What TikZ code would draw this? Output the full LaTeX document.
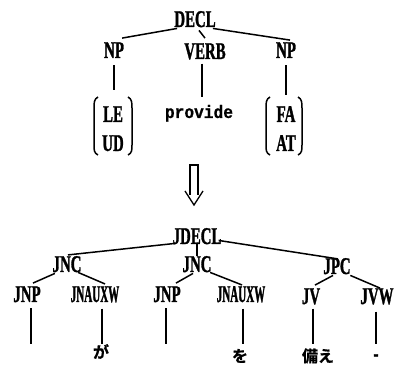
\documentclass[tikz,border=0pt]{standalone}
\usepackage{fontspec}
\usetikzlibrary{calc}
\newfontfamily\labfont[FakeStretch=0.62,FakeBold=1.2]{Liberation Serif Bold}
\newfontfamily\labnarrow[FakeStretch=0.46,FakeBold=1.2]{Liberation Serif Bold}
\newfontfamily\provfont[FakeStretch=0.9,FakeBold=0.8]{Liberation Mono Bold}
\newfontfamily\jpfont[FakeBold=0.8]{Noto Sans CJK JP Bold}
\begin{document}
\begin{tikzpicture}[x=1pt,y=-1pt,
  lab/.style={inner sep=0pt, anchor=base, font=\labfont\fontsize{24}{28}\selectfont},
  labn/.style={inner sep=0pt, anchor=base, font=\labnarrow\fontsize{24}{28}\selectfont},
  prov/.style={inner sep=0pt, anchor=base, font=\provfont\fontsize{18}{22}\selectfont},
  jp/.style={inner sep=0pt, anchor=base, font=\jpfont\fontsize{16}{19}\selectfont},
  edge/.style={line width=1.5pt},
  paren/.style={line width=1.5pt},
  arrowline/.style={line width=1.3pt, line join=miter}]
\useasboundingbox (0,0) rectangle (394,366);

% ---------- upper tree ----------
\node[lab] (decl) at (195,27) {DECL};
\node[lab] (np1) at (114,58) {NP};
\node[lab] (verb) at (205,59) {VERB};
\node[lab] (np2) at (286,58) {NP};
\node[lab] (nle) at (113,122) {LE};
\node[lab] (nud) at (113,151) {UD};
\node[lab] (nfa) at (286,122) {FA};
\node[lab] (nat) at (286,151) {AT};
\node[prov] (prov) at (199,118) {provide};

\draw[edge] ($(decl.south west)+(3,1)$) -- ($(np1.north east)+(-2,-4)$);
\draw[edge] ($(decl.south)+(4,3)$) -- ($(verb.north)+(0,-5)$);
\draw[edge] ($(decl.south east)+(-3,1)$) -- ($(np2.north)+(4,-2)$);

\draw[edge, shorten <=7pt, shorten >=16pt] (np1.south) -- (np1.south |- nle.north);
\draw[edge, shorten <=4pt, shorten >=8pt] ([xshift=-3pt]verb.south) -- ([xshift=-3pt]verb.south |- prov.north);
\draw[edge, shorten <=7pt, shorten >=11pt] (np2.south) -- (np2.south |- nfa.north);

% brackets
\draw[paren] (98,97) .. controls (94,99) and (94,103) .. (94,108) -- (94,145) .. controls (94,150) and (94,153) .. (98,155);
\draw[paren] (128,97) .. controls (132,99) and (132,103) .. (132,108) -- (132,145) .. controls (132,150) and (132,153) .. (128,155);
\draw[paren] (270,97) .. controls (266,99) and (266,103) .. (266,108) -- (266,145) .. controls (266,150) and (266,153) .. (270,155);
\draw[paren] (298,97) .. controls (302,99) and (302,103) .. (302,108) -- (302,145) .. controls (302,150) and (302,153) .. (298,155);

% hollow arrow
\draw[arrowline] (190,195) -- (190,165) -- (198,165) -- (198,195);
\draw[arrowline] (185,191) -- (194,205) -- (203,191);

% ---------- lower tree ----------
\node[lab] (jdecl) at (197,244) {JDECL};
\node[lab] (jnc1) at (67,272) {JNC};
\node[lab] (jnc2) at (197,272) {JNC};
\node[lab] (jpc) at (337,274) {JPC};
\node[lab] (jnp1) at (27,302) {JNP};
\node[labn] (jnx1) at (95,302) {JNAUXW};
\node[lab] (jnp2) at (167,302) {JNP};
\node[labn] (jnx2) at (241,302) {JNAUXW};
\node[lab] (jv) at (311,304) {JV};
\node[lab] (jvw) at (377,304) {JVW};

\node[jp] (ga) at (101,358) {が};
\node[jp] (wo) at (240,362) {を};
\node[jp] (sonae) at (318,362) {備え};
\node[lab] (bar) at (376,361) {-};

\draw[edge] ($(jdecl.south west)+(2.5,-1)$) -- ($(jnc1.north)+(1,-1)$);
\draw[edge] (jdecl.south) -- (jnc2.north);
\draw[edge] ($(jdecl.south east)+(-3,-4)$) -- ($(jpc.north)+(1,1)$);

\draw[edge] ($(jnc1.south west)+(2.5,1)$) -- ($(jnp1.north)+(6,-3)$);
\draw[edge] ($(jnc1.south east)+(-3.5,0)$) -- ($(jnx1.north)+(10,-2)$);
\draw[edge] ($(jnc2.south)+(-4,1)$) -- ($(jnp2.north)+(9,-3)$);
\draw[edge] ($(jnc2.south east)+(-1.5,0)$) -- ($(jnx2.north)+(1,-1)$);
\draw[edge] ($(jpc.south)+(-4,1)$) -- ($(jv.north)+(4,-3)$);
\draw[edge] ($(jpc.south east)+(-0.5,1)$) -- ($(jvw.north)+(3,0)$);

\coordinate (e1) at (31,344);
\coordinate (e2) at (102,344);
\coordinate (e3) at (166,344);
\coordinate (e4) at (243,344);
\coordinate (e5) at (313,344);
\coordinate (e6) at (376,344);
\draw[edge, shorten <=6pt] (e1 |- jnp1.south) -- (e1);
\draw[edge, shorten <=6pt] (e2 |- jnx1.south) -- (e2);
\draw[edge, shorten <=6pt] (e3 |- jnp2.south) -- (e3);
\draw[edge, shorten <=6pt] (e4 |- jnx2.south) -- (e4);
\draw[edge, shorten <=4pt] (e5 |- jv.south) -- (e5);
\draw[edge, shorten <=7pt] (e6 |- jvw.south) -- (e6);
\end{tikzpicture}
\end{document}
